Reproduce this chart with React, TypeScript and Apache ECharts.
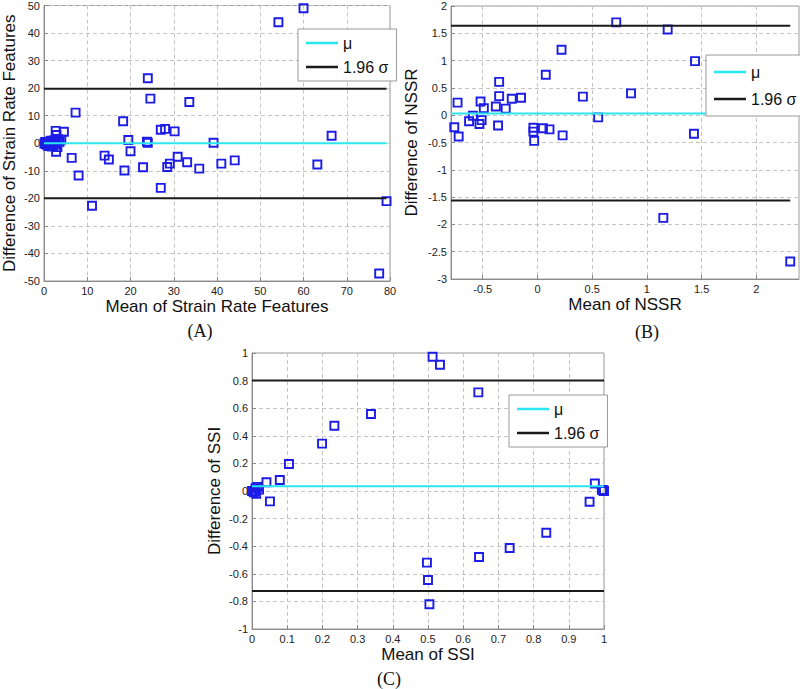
import React, { useEffect, useRef } from "react";
import * as echarts from "echarts";

// ---- Panel A: Strain Rate Features ----
const aPoints: number[][] = [
  [60.0, 49.0], [54.2, 43.9], [24.0, 23.6], [24.6, 16.2], [33.6, 15.0], [7.3, 11.1],
  [18.3, 8.0], [19.5, 1.2], [20.0, -2.9], [14.0, -4.5], [15.0, -5.9], [18.6, -9.9],
  [8.0, -11.7], [6.4, -5.3], [11.1, -22.7], [22.9, -8.7], [23.8, 0.6], [24.0, 0.2],
  [27.0, 4.9], [28.0, 5.2], [30.2, 4.3], [30.9, -4.9], [29.1, -7.4], [28.5, -8.6],
  [27.0, -16.2], [33.1, -6.9], [35.9, -9.2], [39.2, 0.2], [41.0, -7.4], [44.1, -6.2],
  [66.5, 2.7], [63.2, -7.7], [79.2, -21.0], [77.5, -47.3],
  [2.7, 4.5], [4.6, 4.2], [2.9, 3.0], [4.0, 1.3], [2.8, -3.1],
  [0.2, 0.1], [0.4, -0.3], [0.5, 0.4], [0.7, -0.6], [0.9, 0.2], [1.0, -1.0],
  [1.2, 0.6], [1.4, -0.4], [1.6, 0.9], [1.8, -1.2], [2.0, 0.3], [2.2, -0.8],
  [2.4, 1.1], [2.6, -0.2], [2.9, 0.8], [3.1, -1.4], [3.3, 1.4], [3.6, 0.5],
  [0.1, -0.1], [0.3, 0.5],
];
const aMu = 0;
const aUpper = 19.8;
const aLower = -20.0;
const aLineX = [0, 79.2];

// ---- Panel B: NSSR ----
const bPoints: number[][] = [
  [0.72, 1.70], [1.19, 1.57], [1.44, 0.99], [0.22, 1.20], [0.076, 0.74], [-0.35, 0.61],
  [-0.35, 0.35], [-0.38, 0.16], [-0.29, 0.12], [-0.235, 0.30], [-0.15, 0.32], [-0.52, 0.25],
  [-0.49, 0.13], [-0.73, 0.23], [-0.76, -0.22], [-0.72, -0.39], [-0.59, -0.01], [-0.625, -0.11],
  [-0.53, -0.16], [-0.51, -0.09], [-0.36, -0.19], [-0.037, -0.23], [-0.037, -0.30], [-0.03, -0.47],
  [0.05, -0.24], [0.11, -0.26], [0.23, -0.37], [0.415, 0.34], [0.555, -0.04], [0.855, 0.40],
  [1.43, -0.34], [1.15, -1.88], [2.31, -2.68],
];
const bMu = 0.03;
const bUpper = 1.64;
const bLower = -1.56;
const bLineX = [-0.79, 2.31];
const bTicks = [-0.5, 0, 0.5, 1, 1.5, 2];

// ---- Panel C: SSI ----
const cPoints: number[][] = [
  [0.513, 0.973], [0.534, 0.915], [0.643, 0.715], [0.338, 0.558], [0.234, 0.473], [0.199, 0.343],
  [0.105, 0.196], [0.079, 0.080], [0.041, 0.063], [0.051, -0.075],
  [0.0, 0.0], [0.005, -0.01], [0.01, 0.02], [0.015, 0.03], [0.02, 0.01], [0.012, -0.02], [0.008, 0.0],
  [0.974, 0.054], [0.959, -0.078], [0.994, 0.008], [0.997, 0.005], [0.999, 0.002], [1.0, 0.0],
  [0.836, -0.302], [0.732, -0.413], [0.645, -0.478], [0.497, -0.519], [0.5, -0.645], [0.504, -0.821],
];
const cMu = 0.034;
const cUpper = 0.80;
const cLower = -0.725;
const cLineX = [0, 1];

const FONT = "Liberation Sans, Arial, sans-serif";
const MU_COLOR = "#2ae6f0";
const SIG_COLOR = "#1a1a1a";
const MARK_COLOR = "#1c1ce6";

function axisBase(extra: any) {
  return {
    type: "value",
    axisLine: { show: true, onZero: false, lineStyle: { color: "#8a8a8a", width: 1 } },
    axisTick: { show: true, inside: true, length: 4, lineStyle: { color: "#8a8a8a" } },
    splitLine: { show: true, lineStyle: { type: [4, 3], color: "#c4c4c4", width: 1 } },
    axisLabel: { color: "#222", fontSize: 11, fontFamily: FONT, margin: 4 },
    nameLocation: "middle",
    nameTextStyle: { fontSize: 17, color: "#111", fontFamily: FONT },
    ...extra,
  };
}

function panelSeries(idx: number, pts: number[][], mu: number, up: number, lo: number, lx: number[]) {
  const line = (name: string, v: number, color: string) => ({
    type: "line",
    name,
    xAxisIndex: idx,
    yAxisIndex: idx,
    data: [[lx[0], v], [lx[1], v]],
    symbol: "none",
    lineStyle: { color, width: 2 },
    itemStyle: { color },
    silent: true,
    z: 3,
  });
  return [
    {
      type: "scatter",
      name: "pts" + idx,
      xAxisIndex: idx,
      yAxisIndex: idx,
      data: pts,
      symbol: "rect",
      symbolSize: 8,
      itemStyle: { color: "rgba(0,0,0,0)", borderColor: MARK_COLOR, borderWidth: 1.9, opacity: 1 },
      z: 2,
    },
    line("μ", mu, MU_COLOR),
    line("1.96 σ", up, SIG_COLOR),
    line("1.96 σ", lo, SIG_COLOR),
  ];
}

function legendAt(left: number, top: number, padV: number, gap: number) {
  return {
    data: ["μ", "1.96 σ"],
    orient: "vertical",
    left,
    top,
    icon: "rect",
    backgroundColor: "#fff",
    borderColor: "#999",
    borderWidth: 1,
    padding: [padV, 8, padV, 8],
    itemGap: gap,
    itemWidth: 32,
    itemHeight: 2.5,
    selectedMode: false,
    textStyle: { fontSize: 16, fontFamily: FONT, color: "#111", lineHeight: 18 },
  };
}

export default function App() {
  const ref = useRef<HTMLDivElement>(null);
  useEffect(() => {
    if (!ref.current) return;
    const chart = echarts.init(ref.current, null, { renderer: "svg" });
    const gridStyle = { show: true, borderColor: "#9a9a9a", borderWidth: 1, backgroundColor: "transparent" };
    chart.setOption({
      animation: false,
      grid: [
        { left: 41, top: 4, width: 349, height: 277, ...gridStyle },
        { left: 451, top: 6, width: 348, height: 273, ...gridStyle },
        { left: 252, top: 353, width: 352, height: 276, ...gridStyle },
      ],
      xAxis: [
        axisBase({ gridIndex: 0, min: 0, max: 80, interval: 10, name: "Mean of Strain Rate Features", nameGap: 17 }),
        axisBase({
          gridIndex: 1, min: -0.79, max: 2.39, name: "Mean of NSSR", nameGap: 17,
          axisTick: { show: true, inside: true, length: 4, lineStyle: { color: "#8a8a8a" }, customValues: bTicks },
          axisLabel: { color: "#222", fontSize: 11, fontFamily: FONT, margin: 4, customValues: bTicks },
        }),
        axisBase({ gridIndex: 2, min: 0, max: 1, interval: 0.1, name: "Mean of SSI", nameGap: 17 }),
      ],
      yAxis: [
        axisBase({ gridIndex: 0, min: -50, max: 50, interval: 10, name: "Difference of Strain Rate Features", nameGap: 26 }),
        axisBase({ gridIndex: 1, min: -3, max: 2, interval: 0.5, name: "Difference of NSSR", nameGap: 31 }),
        axisBase({ gridIndex: 2, min: -1, max: 1, interval: 0.2, name: "Difference of SSI", nameGap: 29 }),
      ],
      legend: [
        legendAt(298, 29, 5, 6),
        legendAt(706, 55, 8, 9),
        legendAt(509, 395, 5, 6),
      ],
      series: [
        ...panelSeries(0, aPoints, aMu, aUpper, aLower, aLineX),
        ...panelSeries(1, bPoints, bMu, bUpper, bLower, bLineX),
        ...panelSeries(2, cPoints, cMu, cUpper, cLower, cLineX),
      ],
      graphic: [
        { type: "text", x: 200, y: 331, style: { text: "(A)", font: "18px 'Liberation Serif', 'Times New Roman', serif", fill: "#111", align: "center", verticalAlign: "middle" } },
        { type: "text", x: 647, y: 332, style: { text: "(B)", font: "18px 'Liberation Serif', 'Times New Roman', serif", fill: "#111", align: "center", verticalAlign: "middle" } },
        { type: "text", x: 389, y: 679, style: { text: "(C)", font: "18px 'Liberation Serif', 'Times New Roman', serif", fill: "#111", align: "center", verticalAlign: "middle" } },
      ],
    });
    return () => chart.dispose();
  }, []);
  return <div ref={ref} style={{ position: "absolute", left: 0, top: 0, width: 800, height: 689 }} />;
}
